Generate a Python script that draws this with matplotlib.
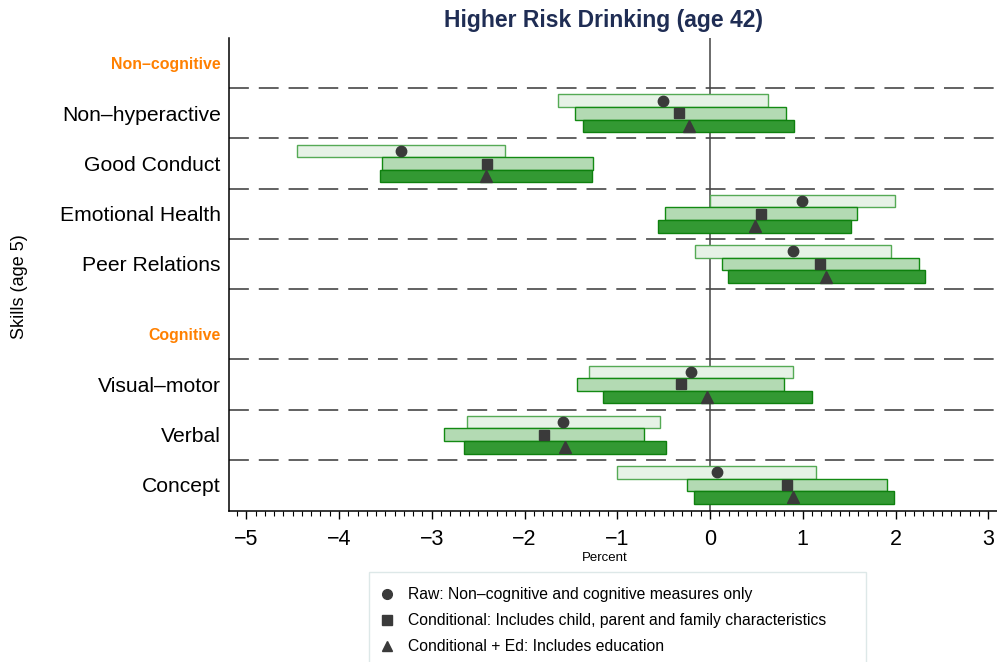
import matplotlib
matplotlib.use("Agg")
import matplotlib.pyplot as plt
from matplotlib.ticker import MultipleLocator
from matplotlib.lines import Line2D
from matplotlib.patches import Rectangle

plt.rcParams['font.family'] = ['Liberation Sans', 'DejaVu Sans']

# ---- data ----
categories = ["Non–hyperactive", "Good Conduct", "Emotional Health", "Peer Relations",
              "Visual–motor", "Verbal", "Concept"]
groups = ["Non–cognitive", "Cognitive"]

raw_est = [-0.51, -3.33, 0.99, 0.90, -0.21, -1.58, 0.07]
raw_lo  = [-1.64, -4.45, 0.00, -0.16, -1.31, -2.62, -1.00]
raw_hi  = [0.62, -2.21, 1.99, 1.95, 0.89, -0.54, 1.14]

cond_est = [-0.33, -2.40, 0.55, 1.19, -0.31, -1.79, 0.83]
cond_lo  = [-1.46, -3.54, -0.49, 0.13, -1.43, -2.87, -0.25]
cond_hi  = [0.82, -1.26, 1.58, 2.25, 0.80, -0.71, 1.91]

ed_est = [-0.23, -2.41, 0.48, 1.25, -0.03, -1.56, 0.90]
ed_lo  = [-1.37, -3.56, -0.56, 0.19, -1.15, -2.65, -0.17]
ed_hi  = [0.91, -1.27, 1.52, 2.32, 1.10, -0.47, 1.98]

legend_labels = ["Raw: Non–cognitive and cognitive measures only",
                 "Conditional: Includes child, parent and family characteristics",
                 "Conditional + Ed: Includes education"]

title = "Higher Risk Drinking (age 42)"
xlabel = "Percent"
ylabel = "Skills (age 5)"
xticks = [-5, -4, -3, -2, -1, 0, 1, 2, 3]

# ---- layout ----
row_y = [1.5, 2.5, 3.5, 4.5, 6.9, 7.9, 8.9]
group_y = [0.5, 5.9]
sep_y = [1.0, 2.0, 3.0, 4.0, 5.0, 6.4, 7.4, 8.4]

fig = plt.figure(figsize=(9.97, 6.62), dpi=100)
ax = fig.add_axes([229/997, 1-511/662, 1-229/997, (511-38)/662])

ax.set_xlim(-5.186, 3.094)
ax.set_ylim(9.42, 0)

for s in sep_y:
    ax.axhline(s, color='#555555', lw=1.3, dashes=(11, 5.5), zorder=1)
ax.axvline(0, color='#444444', lw=1.1, zorder=1)

series = [
    (raw_est, raw_lo, raw_hi, -0.25, '#e6f2e6', '#55aa55', 'o', 7.5),
    (cond_est, cond_lo, cond_hi, 0.0, '#b3dab3', '#138a13', 's', 6.5),
    (ed_est, ed_lo, ed_hi, 0.25, '#339933', '#0e800e', '^', 8.0),
]
h = 0.25
for est, lo, hi, off, fc, ec, mk, ms in series:
    ys = [y + off for y in row_y]
    ax.barh(ys, [b - a for a, b in zip(lo, hi)], left=lo, height=h,
            color=fc, edgecolor=ec, linewidth=1.0, zorder=2)
    ax.plot(est, ys, linestyle='none', marker=mk, markersize=ms,
            color='#3a3a3a', zorder=3)

# y tick labels
ax.set_yticks(row_y + group_y)
ax.set_yticklabels(categories + groups)
for lab in ax.get_yticklabels():
    if lab.get_text() in groups:
        lab.set_color('#ff8000')
        lab.set_fontweight('bold')
        lab.set_fontsize(11.4)
    else:
        lab.set_fontsize(15.2)
ax.tick_params(axis='y', length=0, pad=6)

ax.set_xticks(xticks)
ax.set_xticklabels([("−%d" % -t) if t < 0 else str(t) for t in xticks])
ax.xaxis.set_minor_locator(MultipleLocator(0.1))
ax.tick_params(axis='x', which='major', length=6, width=1, labelsize=15.5, pad=7)
ax.tick_params(axis='x', which='minor', length=3.8, width=0.8)

for sp in ['top', 'right']:
    ax.spines[sp].set_visible(False)
ax.spines['left'].set_linewidth(1.1)
ax.spines['bottom'].set_linewidth(1.1)

ax.set_xlabel(xlabel, fontsize=9.5)
ax.xaxis.set_label_coords((605-229)/768, -0.087)
fig.text(19/997, 1-287/662, ylabel, rotation=90, fontsize=13, ha='center', va='center')

fig.text(603/997, 1-20/662, title, fontsize=16.5, fontweight='bold', color='#1f2d54',
         ha='center', va='center')

# legend
fig.patches.append(Rectangle((369/997, -0.05), (866-369)/997, (1-572/662)+0.05,
                             transform=fig.transFigure, facecolor='white',
                             edgecolor='#dde8e8', linewidth=1.0, zorder=0))
handles = [Line2D([], [], linestyle='none', marker=m, markersize=s, color='#3a3a3a')
           for m, s in [('o', 7), ('s', 6.5), ('^', 7.5)]]
fig.legend(handles, legend_labels, loc='upper left',
           bbox_to_anchor=(361/997, 1-573/662), frameon=False, fontsize=11.3,
           labelspacing=0.7, handletextpad=0.6, handlelength=1.5)

fig.savefig("out.png", dpi=100)
